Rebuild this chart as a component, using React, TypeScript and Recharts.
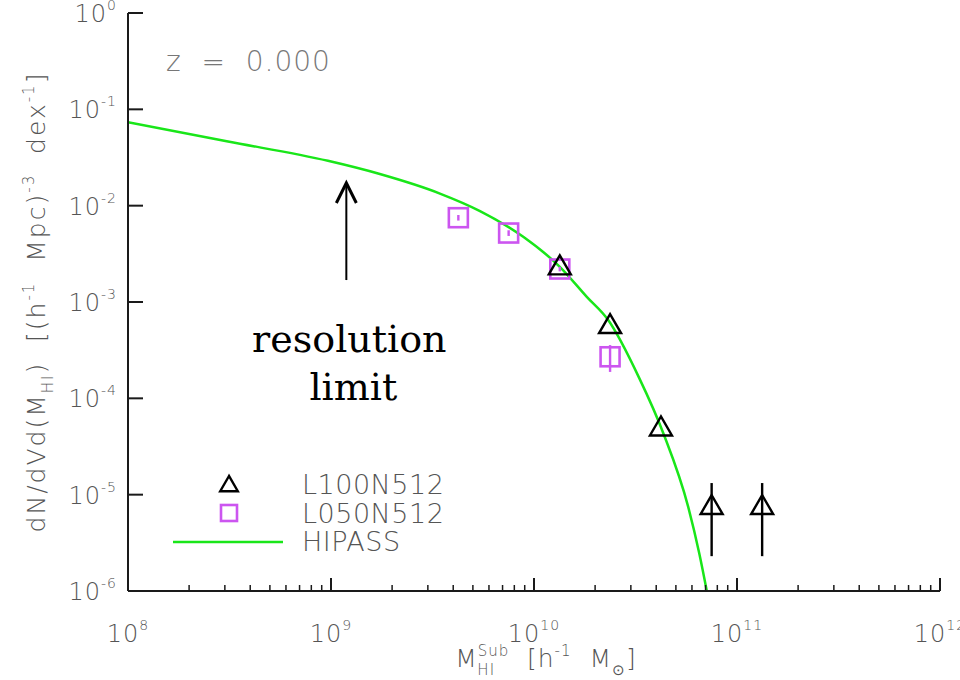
import React from 'react';
import { ComposedChart, Line, Scatter, XAxis, YAxis, ErrorBar, Legend, ReferenceLine } from 'recharts';

// ---- data ----
const hipassMass = [1e8, 3.11e8, 9.66e8, 1.74e9, 3.44e9, 5.42e9, 8.85e9, 1.34e10, 1.82e10, 2.32e10, 3.3e10, 4.34e10, 5.75e10, 6.52e10, 7.1e10];
const hipassPhi = [0.0733, 0.0463, 0.0292, 0.0213, 0.01336, 0.00879, 0.00475, 0.00232, 0.00113, 0.000649, 0.000162, 4.32e-5, 7.46e-6, 2.45e-6, 1.0e-6];

const l100Mass = [1.34e10, 2.37e10, 4.22e10, 7.5e10, 1.33e11];
const l100Phi = [2.4e-3, 5.9e-4, 5.1e-5, 7.8e-6, 7.8e-6];
const l100ErrLow = [0, 0, 0, 5.5e-6, 5.5e-6];
const l100ErrHigh = [0, 0, 0, 5.4e-6, 5.4e-6];

const l050Mass = [4.24e9, 7.5e9, 1.34e10, 2.37e10];
const l050Phi = [7.5e-3, 5.2e-3, 2.2e-3, 2.7e-4];
const l050ErrLow = [5e-4, 3.5e-4, 1.2e-4, 0.82e-4];
const l050ErrHigh = [5e-4, 3.5e-4, 1.2e-4, 0.87e-4];

const xMajorExponents = [8, 9, 10, 11, 12];
const yMajorExponents = [0, -1, -2, -3, -4, -5, -6];
const minorMultipliers = [2, 3, 4, 5, 6, 7, 8, 9];
const seriesNames = ['L100N512', 'L050N512', 'HIPASS'];
const redshiftLabel = 'z  =  0.000';
const resolutionMass = 1.19e9;
const resolutionArrow = [1.69e-3, 0.0172];
const resolutionText = ['resolution', 'limit'];

// ---- derived tables ----
const hipassData = hipassMass.map((x, i) => ({ x, y: hipassPhi[i] }));
const l100Data = l100Mass.map((x, i) => ({ x, y: l100Phi[i], err: [l100ErrLow[i], l100ErrHigh[i]] }));
const l050Data = l050Mass.map((x, i) => ({ x, y: l050Phi[i], err: [l050ErrLow[i], l050ErrHigh[i]] }));
const xTicks: number[] = [];
xMajorExponents.forEach((e, i) => {
  xTicks.push(Math.pow(10, e));
  if (i < xMajorExponents.length - 1) minorMultipliers.forEach((m) => xTicks.push(m * Math.pow(10, e)));
});
const yTicks = yMajorExponents.map((e) => Math.pow(10, e));

// ---- style ----
const SANS = "'DejaVu Sans', 'Liberation Sans', sans-serif";
const GRAY = '#555';
const AXIS = '#1a1a1a';
const GREEN = '#19e619';
const MAGENTA = '#cc55f0';

type Seg = { t: string; s?: 'sup' | 'sub'; dx?: number };

function RichText({ segs, size, ...rest }: any) {
  let cur = 0;
  return (
    <text {...rest} fontSize={size} style={{ whiteSpace: 'pre' }}>
      {segs.map((g: Seg, i: number) => {
        const target = g.s === 'sup' ? -size * 0.45 : g.s === 'sub' ? size * 0.3 : 0;
        const dy = target - cur;
        cur = target;
        return (
          <tspan key={i} dy={dy} dx={g.dx || 0} fontSize={g.s ? size * 0.6 : size}>
            {g.t}
          </tspan>
        );
      })}
    </text>
  );
}

const isMajor = (v: number) => {
  const e = Math.log10(v);
  return Math.abs(e - Math.round(e)) < 1e-6;
};

const expText = (v: number) => {
  const e = Math.round(Math.log10(v));
  return e < 0 ? '-' + Math.abs(e) : String(e);
};

const BottomTick = (props: any) => {
  const { x, y, payload } = props;
  const major = isMajor(payload.value);
  return (
    <g>
      <line x1={x} x2={x} y1={y} y2={y - (major ? 13 : 6)} stroke={AXIS} strokeWidth={major ? 2 : 1.5} />
      {major && (
        <text x={x} y={y + 51} textAnchor="middle" fontFamily={SANS} fontSize={24} fill={GRAY} fontWeight={300} letterSpacing={1}>
          <tspan>10</tspan>
          <tspan dy={-12} fontSize={14}>{expText(payload.value)}</tspan>
        </text>
      )}
    </g>
  );
};

const TopTick = (props: any) => {
  const { x, y, payload } = props;
  const major = isMajor(payload.value);
  return <line x1={x} x2={x} y1={y} y2={y + (major ? 13 : 6)} stroke={AXIS} strokeWidth={major ? 2 : 1.5} />;
};

const LeftTick = (props: any) => {
  const { x, y, payload } = props;
  return (
    <g>
      <line x1={x} x2={x + 15} y1={y} y2={y} stroke={AXIS} strokeWidth={2} />
      <text x={x - 11} y={y + 9} textAnchor="end" fontFamily={SANS} fontSize={24} fill={GRAY} fontWeight={300} letterSpacing={1}>
        <tspan>10</tspan>
        <tspan dy={-12} fontSize={14}>{expText(payload.value)}</tspan>
      </text>
    </g>
  );
};

const RightTick = (props: any) => {
  const { x, y } = props;
  return <line x1={x} x2={x - 13} y1={y} y2={y} stroke={AXIS} strokeWidth={2} />;
};

const Triangle = ({ cx, cy, scale = 1 }: any) => {
  if (cx == null || cy == null) return null;
  const h = 11 * scale;
  const up = 10 * scale;
  const dn = 9 * scale;
  return (
    <polygon
      points={`${cx},${cy - up} ${cx - h},${cy + dn} ${cx + h},${cy + dn}`}
      fill="none"
      stroke="#000"
      strokeWidth={2.4}
      strokeLinejoin="miter"
    />
  );
};

const Square = ({ cx, cy, size = 19 }: any) => {
  if (cx == null || cy == null) return null;
  return <rect x={cx - size / 2} y={cy - size / 2} width={size} height={size} fill="none" stroke={MAGENTA} strokeWidth={2.6} />;
};

const YTitle = (props: any) => {
  const { viewBox } = props;
  const cx = viewBox.x + 35;
  const cy = viewBox.y + viewBox.height / 2;
  const segs: Seg[] = [
    { t: 'dN/dVd(M' },
    { t: 'HI', s: 'sub' },
    { t: ')  [(h' },
    { t: '-1', s: 'sup' },
    { t: '  Mpc)' },
    { t: '-3', s: 'sup' },
    { t: '  dex' },
    { t: '-1', s: 'sup' },
    { t: ']' },
  ];
  return (
    <RichText
      segs={segs}
      size={25}
      x={cx}
      y={cy}
      textAnchor="middle"
      transform={`rotate(-90, ${cx}, ${cy})`}
      fontFamily={SANS}
      fill={GRAY}
      fontWeight={300}
      letterSpacing={2}
    />
  );
};

const XTitle = (props: any) => {
  const { viewBox } = props;
  const cx = viewBox.x + viewBox.width / 2 + 12;
  const cy = viewBox.y + 76;
  const segs: Seg[] = [
    { t: 'M' },
    { t: 'Sub', s: 'sup' },
    { t: 'HI', s: 'sub', dx: -32 },
    { t: '  [h', dx: 14 },
    { t: '-1', s: 'sup' },
    { t: '  M' },
    { t: '⊙', s: 'sub' },
    { t: ']' },
  ];
  return <RichText segs={segs} size={25} x={cx} y={cy} textAnchor="middle" fontFamily={SANS} fill={GRAY} fontWeight={300} letterSpacing={1} />;
};

const ResolutionArrow = (props: any) => {
  const { x1, y1, x2, y2 } = props;
  if (x1 == null) return null;
  const top = Math.min(y1, y2);
  const bottom = Math.max(y1, y2);
  const x = x1;
  return (
    <g>
      <line x1={x} x2={x} y1={bottom} y2={top + 2} stroke="#000" strokeWidth={2} />
      <polyline points={`${x - 10},${top + 20} ${x},${top} ${x + 10},${top + 20}`} fill="none" stroke="#000" strokeWidth={3} />
      <text x={x + 3} y={bottom + 72} textAnchor="middle" fontFamily="'DejaVu Serif', 'Liberation Serif', serif" fontSize={38} fill="#000">
        {resolutionText[0]}
      </text>
      <text x={x + 7} y={bottom + 120} textAnchor="middle" fontFamily="'DejaVu Serif', 'Liberation Serif', serif" fontSize={38} fill="#000">
        {resolutionText[1]}
      </text>
    </g>
  );
};

const LegendContent = () => (
  <svg width={330} height={95} style={{ overflow: 'visible' }}>
    <Triangle cx={69} cy={18} scale={0.8} />
    <Square cx={69} cy={47} size={16} />
    <line x1={13} x2={123} y1={76} y2={76} stroke={GREEN} strokeWidth={2.5} />
    {seriesNames.map((n, i) => (
      <text key={n} x={142} y={28 + i * 28.5} fontFamily={SANS} fontSize={27} fill={GRAY} fontWeight={300} letterSpacing={0.5}>
        {n}
      </text>
    ))}
  </svg>
);

export default function App() {
  return (
    <div style={{ position: 'absolute', left: 0, top: 0, width: 960, height: 680, background: '#fff' }}>
      <ComposedChart width={960} height={680} margin={{ top: 13, right: 20, bottom: 29, left: 10 }}>
        <XAxis
          xAxisId="x"
          dataKey="x"
          type="number"
          scale="log"
          domain={[1e8, 1e12]}
          allowDataOverflow
          ticks={xTicks}
          interval={0}
          tick={<BottomTick />}
          tickLine={false}
          tickSize={0}
          tickMargin={0}
          height={60}
          axisLine={{ stroke: AXIS, strokeWidth: 2 }}
          label={{ content: <XTitle /> }}
        />
        <XAxis
          xAxisId="xt"
          orientation="top"
          type="number"
          scale="log"
          domain={[1e8, 1e12]}
          allowDataOverflow
          ticks={xTicks}
          interval={0}
          tick={<TopTick />}
          tickLine={false}
          tickSize={0}
          tickMargin={0}
          height={0}
          axisLine={{ stroke: AXIS, strokeWidth: 2 }}
        />
        <YAxis
          yAxisId="y"
          dataKey="y"
          type="number"
          scale="log"
          domain={[1e-6, 1]}
          allowDataOverflow
          ticks={yTicks}
          interval={0}
          tick={<LeftTick />}
          tickLine={false}
          tickSize={0}
          tickMargin={0}
          width={118}
          axisLine={{ stroke: AXIS, strokeWidth: 2 }}
          label={{ content: <YTitle /> }}
        />
        <YAxis
          yAxisId="yr"
          orientation="right"
          type="number"
          scale="log"
          domain={[1e-6, 1]}
          allowDataOverflow
          ticks={yTicks}
          interval={0}
          tick={<RightTick />}
          tickLine={false}
          tickSize={0}
          tickMargin={0}
          width={0}
          axisLine={{ stroke: AXIS, strokeWidth: 2 }}
        />
        <Line
          xAxisId="x"
          yAxisId="y"
          data={hipassData}
          dataKey="y"
          name={seriesNames[2]}
          type="monotone"
          stroke={GREEN}
          strokeWidth={2.5}
          dot={false}
          activeDot={false}
          isAnimationActive={false}
        />
        <Scatter
          xAxisId="x"
          yAxisId="y"
          data={l050Data}
          dataKey="y"
          name={seriesNames[1]}
          shape={(p: any) => <Square cx={p.cx} cy={p.cy} />}
          isAnimationActive={false}
        >
          <ErrorBar dataKey="err" direction="y" width={0} stroke={MAGENTA} strokeWidth={2.4} isAnimationActive={false} />
        </Scatter>
        <Scatter
          xAxisId="x"
          yAxisId="y"
          data={l100Data}
          dataKey="y"
          name={seriesNames[0]}
          shape={(p: any) => <Triangle cx={p.cx} cy={p.cy} />}
          isAnimationActive={false}
        >
          <ErrorBar dataKey="err" direction="y" width={0} stroke="#000" strokeWidth={2.4} isAnimationActive={false} />
        </Scatter>
        <ReferenceLine
          xAxisId="x"
          yAxisId="y"
          segment={[
            { x: resolutionMass, y: resolutionArrow[0] },
            { x: resolutionMass, y: resolutionArrow[1] },
          ]}
          ifOverflow="visible"
          shape={(p: any) => <ResolutionArrow {...p} />}
        />
        <Legend
          layout="horizontal"
          verticalAlign="middle"
          align="center"
          content={() => <LegendContent />}
          wrapperStyle={{ left: 160, top: 466, width: 330, height: 95 }}
        />
      </ComposedChart>
      <div
        style={{
          position: 'absolute',
          left: 166,
          top: 44,
          fontFamily: SANS,
          fontSize: 28,
          fontWeight: 300,
          color: '#777',
          whiteSpace: 'pre',
          letterSpacing: 1,
          lineHeight: '36px',
        }}
      >
        {redshiftLabel}
      </div>
    </div>
  );
}
